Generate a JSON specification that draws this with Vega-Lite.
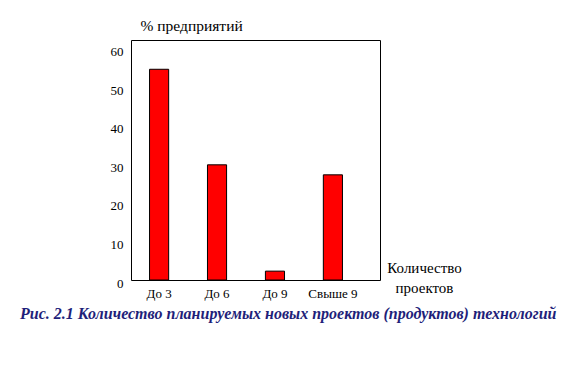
{
  "$schema": "https://vega.github.io/schema/vega-lite/v6.json",
  "width": 249,
  "height": 240,
  "autosize": "none",
  "padding": {"left": 131, "top": 40, "right": 193, "bottom": 100},
  "background": "white",
  "data": {"values": [
    {"category": "До 3", "value": 54.7},
    {"category": "До 6", "value": 29.9},
    {"category": "До 9", "value": 2.3},
    {"category": "Свыше 9", "value": 27.3}
  ]},
  "title": {
    "text": "Рис. 2.1 Количество планируемых новых проектов (продуктов)  технологий",
    "orient": "bottom",
    "anchor": "start",
    "frame": "group",
    "dx": -111,
    "offset": 6,
    "font": "Liberation Serif",
    "fontSize": 16,
    "fontWeight": "bold",
    "fontStyle": "italic",
    "color": "#1f1f7a"
  },
  "mark": {"type": "bar", "color": "#ff0000", "stroke": "#000000", "strokeWidth": 1},
  "encoding": {
    "x": {
      "field": "category",
      "type": "nominal",
      "sort": null,
      "scale": {"paddingInner": 0.67, "paddingOuter": 0.32, "range": [0, 230]},
      "axis": {
        "title": ["Количество", "проектов"],
        "titleFont": "Liberation Serif",
        "titleFontSize": 15,
        "titleFontWeight": "normal",
        "titleColor": "#000000",
        "titleLineHeight": 20,
        "titleAngle": 0,
        "titleAlign": "center",
        "titleBaseline": "top",
        "titleX": 293,
        "titleY": -20,
        "labelAngle": 0,
        "labelFont": "Liberation Serif",
        "labelFontSize": 13,
        "labelColor": "#000000",
        "labelPadding": 7,
        "ticks": false,
        "domain": false
      }
    },
    "y": {
      "field": "value",
      "type": "quantitative",
      "scale": {"domain": [0, 62.3], "nice": false},
      "axis": {
        "values": [0, 10, 20, 30, 40, 50, 60],
        "title": "% предприятий",
        "titleFont": "Liberation Serif",
        "titleFontSize": 15.5,
        "titleFontWeight": "normal",
        "titleColor": "#000000",
        "titleAngle": 0,
        "titleAlign": "left",
        "titleBaseline": "middle",
        "titleX": 9,
        "titleY": -15,
        "labelFont": "Liberation Serif",
        "labelFontSize": 13,
        "labelColor": "#000000",
        "labelPadding": 8,
        "labelOffset": 3,
        "ticks": false,
        "domain": false,
        "grid": false
      }
    }
  },
  "config": {
    "view": {"stroke": "#000000", "strokeWidth": 1}
  }
}
